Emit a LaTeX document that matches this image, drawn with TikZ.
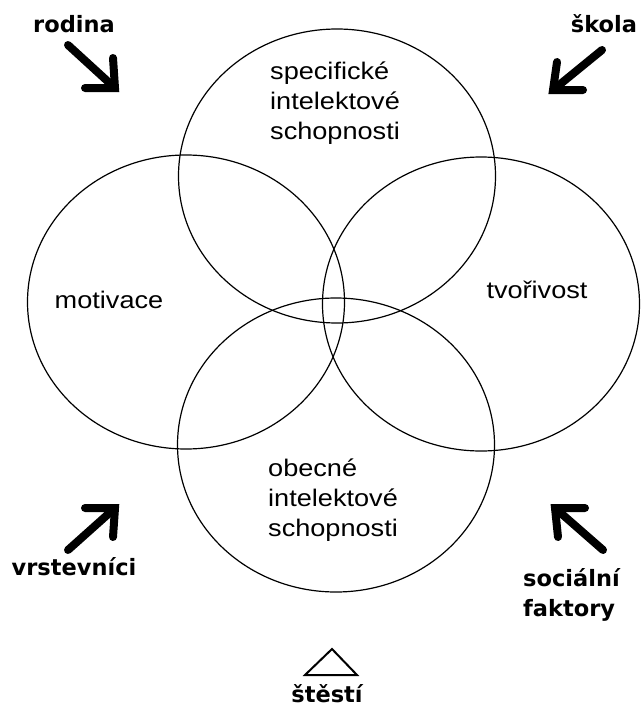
\documentclass[tikz,border=0pt]{standalone}
\usepackage{fontspec}
\setmainfont{Liberation Sans}[FakeStretch=1.13]
\newfontfamily\labelfont{DejaVu Sans}
\usetikzlibrary{shapes.geometric}
\begin{document}
\begin{tikzpicture}[x=1pt,y=-1pt,
  ring/.style={draw, ellipse, line width=1.2pt, minimum width=317pt, minimum height=294pt, inner sep=0pt},
  inside/.style={font=\fontsize{24}{30}\selectfont, align=left, inner sep=0pt},
  factor/.style={font=\labelfont\bfseries\fontsize{22.5}{30}\selectfont, align=left, inner sep=0pt},
  push/.style={line width=8pt, line cap=round, line join=miter}]
\useasboundingbox (0,0) rectangle (643,707);

% four overlapping ellipses
\node[ring] (spec) at (337,176) {};
\node[ring] (obec) at (336,445) {};
\node[ring] (moti) at (186,302) {};
\node[ring] (tvor) at (481,304) {};

% texts inside the ellipses
\node[inside, anchor=west] (tspec) at (270,103) {specifické\\intelektové\\schopnosti};
\node[inside, anchor=west] (tobec) at (268,500) {obecné\\intelektové\\schopnosti};
\node[inside] (tmoti) at (109,300) {motivace};
\node[inside] (ttvor) at (537,290) {tvořivost};

% outside factors
\node[factor] (rodina) at (74,24) {rodina};
\node[factor] (skola) at (604,24) {škola};
\node[factor] (vrst) at (74,567) {vrstevníci};
\node[factor, anchor=west] (soc) at (523,595) {sociální\\faktory};
\node[factor] (stesti) at (327,694) {štěstí};

% thick arrows pointing inward
\draw[push] (68,45) -- (115,88);
\draw[push] (85,88) -- (115,88) -- (113,58);

\draw[push] (602,50) -- (553,90);
\draw[push] (583,90) -- (553,90) -- (557,62);

\draw[push] (68,550) -- (115,508);
\draw[push] (85,508) -- (115,508) -- (113,537);

\draw[push] (603,550) -- (555,508);
\draw[push] (585,508) -- (555,508) -- (558,537);

% triangle above the last label
\draw[line width=2pt, line join=miter] (332,649) -- (357,675) -- (305,675) -- cycle;
\end{tikzpicture}
\end{document}
